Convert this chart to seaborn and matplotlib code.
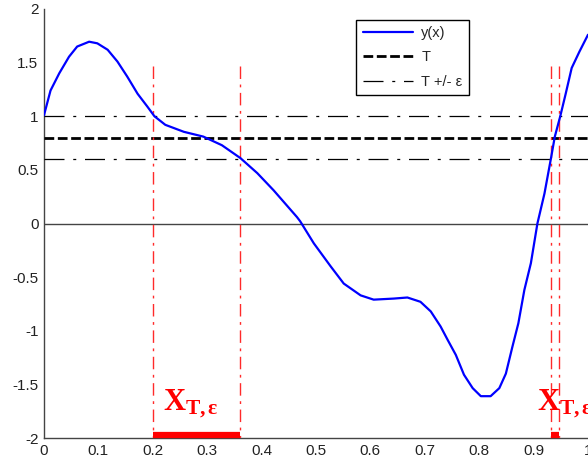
import numpy as np
import pandas as pd
import matplotlib
matplotlib.use("Agg")
import matplotlib.pyplot as plt
import seaborn as sns

# curve y(x)
x_vals = [0.0, 0.012, 0.028, 0.046, 0.061, 0.083, 0.098, 0.117, 0.135, 0.153,
          0.172, 0.190, 0.203, 0.223, 0.257, 0.293, 0.327, 0.361, 0.392, 0.422,
          0.465, 0.471, 0.496, 0.527, 0.551, 0.582, 0.606, 0.643, 0.668, 0.692,
          0.711, 0.729, 0.742, 0.757, 0.772, 0.788, 0.803, 0.821, 0.837, 0.849,
          0.861, 0.872, 0.883, 0.895, 0.907, 0.920, 0.932, 0.939, 0.949, 0.959,
          0.970, 0.984, 1.0]
y_vals = [1.01, 1.24, 1.40, 1.555, 1.65, 1.695, 1.68, 1.62, 1.51, 1.37,
          1.21, 1.09, 1.0, 0.92, 0.855, 0.81, 0.73, 0.61, 0.47, 0.31,
          0.06, 0.02, -0.185, -0.40, -0.56, -0.67, -0.71, -0.70, -0.69, -0.73,
          -0.82, -0.96, -1.085, -1.225, -1.41, -1.535, -1.61, -1.61, -1.535, -1.40,
          -1.15, -0.93, -0.62, -0.37, 0.0, 0.28, 0.61, 0.81, 1.0, 1.21,
          1.45, 1.60, 1.76]

T = 0.8
eps = 0.2
x_bounds = [0.2, 0.36, 0.932, 0.947]
intervals = [(0.2, 0.36), (0.932, 0.947)]
label_pos = [0.219, 0.907]
x_ticks = [0, 0.1, 0.2, 0.3, 0.4, 0.5, 0.6, 0.7, 0.8, 0.9, 1]
x_ticklabels = ["0", "0.1", "0.2", "0.3", "0.4", "0.5", "0.6", "0.7", "0.8", "0.9", "1"]
y_ticks = [-2, -1.5, -1, -0.5, 0, 0.5, 1, 1.5, 2]
y_ticklabels = ["-2", "-1.5", "-1", "-0.5", "0", "0.5", "1", "1.5", "2"]

sns.set_style("white")
plt.rcParams["font.family"] = ["Liberation Sans", "DejaVu Sans"]
plt.rcParams["mathtext.fontset"] = "custom"
plt.rcParams["mathtext.rm"] = "Liberation Serif"
plt.rcParams["mathtext.bf"] = "Liberation Serif:bold"
plt.rcParams["mathtext.it"] = "Liberation Serif:italic"

fig = plt.figure(figsize=(5.88, 4.66), dpi=100)
ax = fig.add_axes([44 / 588, 28 / 466, 1 - 44 / 588, (438 - 9) / 466])

df = pd.DataFrame({"x": x_vals, "y": y_vals})
sns.lineplot(data=df, x="x", y="y", ax=ax, color="#0000ff", lw=1.6,
             label="y(x)", zorder=5)

dashdot = (0, (16, 7, 2.4, 7))
ax.axhline(T, color="black", lw=2.0, ls=(0, (3.5, 1.3)), label="T", zorder=3)
ax.axhline(T + eps, color="black", lw=0.9, ls=dashdot,
           label="T +/- ε", zorder=3)
ax.axhline(T - eps, color="black", lw=0.9, ls=dashdot, zorder=3)
ax.axhline(0, color="#444444", lw=1.0, zorder=2)

for xb in x_bounds:
    ax.plot([xb, xb], [1.47, -2], color="#ff2a2a", lw=1.0,
            ls=(0, (9, 4, 2, 4)), zorder=4)
for a, b in intervals:
    ax.plot([a, b], [-1.975, -1.975], color="red", lw=4.5,
            solid_capstyle="butt", zorder=6, clip_on=False)
for xp in label_pos:
    ax.text(xp, -1.74, r"$\mathbf{X}_{\mathbf{T,\epsilon}}$", color="red",
            fontsize=22, ha="left", va="baseline", zorder=7)

ax.set_xlim(0, 1)
ax.set_ylim(-2, 2)
ax.set_xticks(x_ticks)
ax.set_xticklabels(x_ticklabels)
ax.set_yticks(y_ticks)
ax.set_yticklabels(y_ticklabels)
ax.set_xlabel("")
ax.set_ylabel("")
ax.tick_params(direction="in", length=5, width=0.8, labelsize=11,
               colors="#222222", pad=4)
for s in ["top", "right"]:
    ax.spines[s].set_visible(False)
for s in ["left", "bottom"]:
    ax.spines[s].set_color("#444444")
    ax.spines[s].set_linewidth(1.0)

leg = ax.legend(loc="upper left", bbox_to_anchor=(0.561, 0.992), fontsize=10.5,
                frameon=True, fancybox=False, handlelength=3.4,
                borderpad=0.45, labelspacing=0.7, handletextpad=0.6)
leg.get_frame().set_edgecolor("black")
leg.get_frame().set_linewidth(1.0)
leg.get_frame().set_alpha(1)

fig.savefig("out.png", dpi=100)
